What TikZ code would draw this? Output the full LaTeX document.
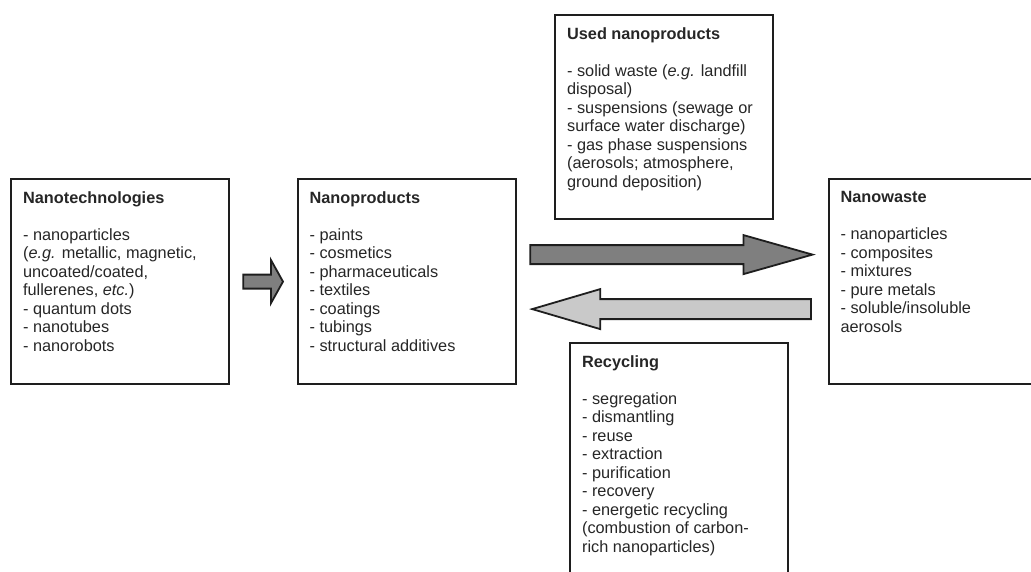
\documentclass[tikz,border=0pt]{standalone}
\usepackage{fontspec}
\setmainfont{Liberation Sans}
\usepackage{tikz}
\usetikzlibrary{calc}
\usepackage{xcolor}
\definecolor{boxline}{HTML}{1E1E1E}
\definecolor{arrowdark}{HTML}{7F7F7F}
\definecolor{arrowlight}{HTML}{C9C9C9}
\definecolor{ink}{HTML}{262626}
\newcommand{\boxtext}[2]{\parbox[t][#1][t]{194pt}{\raggedright #2}}

\begin{document}
\begin{tikzpicture}[x=1pt, y=-1pt,
  stagebox/.style={draw=boxline, line width=2.2pt, anchor=north west, inner xsep=12pt, inner ysep=12.5pt, text=ink, font=\fontsize{16.3}{18.5}\selectfont},
  blockarrow/.style={draw=boxline, line width=1.8pt, line join=miter}]
\useasboundingbox (0,0) rectangle (1031,571);
\clip (0,0) rectangle (1031,571);

% === Stages ===
\node[stagebox] (tech) at (10,178) {\boxtext{180pt}{\textbf{Nanotechnologies}\\[18.5pt]
- nanoparticles\\
(\textit{e.g.} metallic, magnetic,\\
uncoated/coated,\\
fullerenes, \textit{etc.})\\
- quantum dots\\
- nanotubes\\
- nanorobots}};
\node[stagebox] (prod) at (296.5,178) {\boxtext{180pt}{\textbf{Nanoproducts}\\[18.5pt]
- paints\\
- cosmetics\\
- pharmaceuticals\\
- textiles\\
- coatings\\
- tubings\\
- structural additives}};
\node[stagebox] (used) at (554,14) {\boxtext{179pt}{\textbf{Used nanoproducts}\\[18.5pt]
- solid waste (\textit{e.g.} landfill\\
disposal)\\
- suspensions (sewage or\\
surface water discharge)\\
- gas phase suspensions\\
(aerosols; atmosphere,\\
ground deposition)}};
\node[stagebox] (waste) at (827.5,178) {\boxtext{180pt}{\textbf{Nanowaste}\\[18.5pt]
- nanoparticles\\
- composites\\
- mixtures\\
- pure metals\\
- soluble/insoluble\\
aerosols}};
\node[stagebox] (recyc) at (569,342) {\boxtext{223pt}{\textbf{Recycling}\\[18.5pt]
- segregation\\
- dismantling\\
- reuse\\
- extraction\\
- purification\\
- recovery\\
- energetic recycling\\
(combustion of carbon-\\
rich nanoparticles)}};

% === Arrows ===
% tech -> prod
\coordinate (s0) at ($(tech.east)+(13,0)$);
\coordinate (s1) at ($(prod.west)+(-13.5,0)$);
\draw[blockarrow, fill=arrowdark] ($(s0)+(0,-7)$) -- ($(s1)+(-12,-7)$) -- ($(s1)+(-12,-21.5)$)
  -- (s1) -- ($(s1)+(-12,21.5)$) -- ($(s1)+(-12,7)$) -- ($(s0)+(0,7)$) -- cycle;
% prod -> waste
\coordinate (d0) at ($(prod.east)+(13.5,-27)$);
\coordinate (d1) at ($(waste.west)+(-15,-27)$);
\draw[blockarrow, fill=arrowdark] ($(d0)+(0,-9.5)$) -- ($(d1)+(-69,-9.5)$) -- ($(d1)+(-69,-19.5)$)
  -- (d1) -- ($(d1)+(-69,19.5)$) -- ($(d1)+(-69,9.5)$) -- ($(d0)+(0,9.5)$) -- cycle;
% waste -> prod
\coordinate (r0) at ($(waste.west)+(-16.5,27.5)$);
\coordinate (r1) at ($(prod.east)+(15.5,27.5)$);
\draw[blockarrow, fill=arrowlight] ($(r0)+(0,-10)$) -- ($(r1)+(68,-10)$) -- ($(r1)+(68,-20)$)
  -- (r1) -- ($(r1)+(68,20)$) -- ($(r1)+(68,10)$) -- ($(r0)+(0,10)$) -- cycle;
\end{tikzpicture}
\end{document}
